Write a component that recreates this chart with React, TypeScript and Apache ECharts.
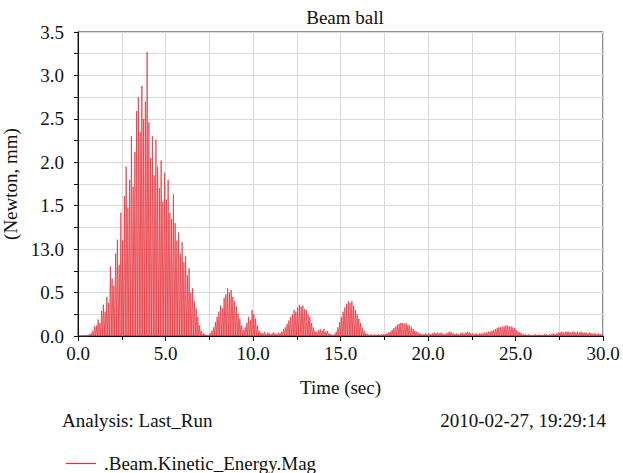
import React, { useEffect, useRef } from "react";
import * as echarts from "echarts";

// Kinetic energy magnitude of the beam, sampled as one oscillation peak every 0.1 s.
const SAMPLE_STEP = 0.1;
const BASELINE = 0;

// 0.0 – 7.5 s: the main impact
const impactPeaks = [
  0, 0, 0, 0, 0,
  0.01, 0.02, 0.03, 0.06, 0.11,
  0.12, 0.19, 0.15, 0.29, 0.36,
  0.28, 0.45, 0.38, 0.8, 0.66,
  0.58, 0.95, 1.11, 0.82, 1.42,
  1.1, 1.61, 1.95, 1.48, 1.8,
  2.3, 1.72, 2.12, 2.59, 2.75,
  2.35, 2.88, 2.5, 2.7, 3.27,
  2.46, 2.05, 2.3, 1.85, 2.26,
  1.95, 1.7, 2.02, 1.55, 1.88,
  1.57, 1.8, 1.42, 1.35, 1.63,
  1.3, 1.1, 1.19, 0.95, 1.08,
  0.85, 0.92, 0.7, 0.78, 0.5,
  0.55, 0.4, 0.32, 0.22, 0.12,
  0.06, 0.03, 0.02, 0.01, 0.01,
];

// 7.5 – 15.0 s: rebounds
const reboundPeaks = [
  0.03, 0.06, 0.1, 0.16, 0.22,
  0.28, 0.35, 0.32, 0.44, 0.48,
  0.55, 0.5, 0.53, 0.45, 0.4,
  0.34, 0.26, 0.2, 0.12, 0.07,
  0.1, 0.15, 0.22, 0.18, 0.3,
  0.25, 0.2, 0.12, 0.06, 0.04,
  0.03, 0.05, 0.02, 0.04, 0.03,
  0.02, 0.04, 0.03, 0.02, 0.04,
  0.03, 0.05, 0.08, 0.1, 0.14,
  0.18, 0.22, 0.25, 0.3, 0.28,
  0.33, 0.36, 0.34, 0.35, 0.31,
  0.3, 0.25, 0.22, 0.15, 0.1,
  0.06, 0.05, 0.07, 0.08, 0.06,
  0.08, 0.05, 0.06, 0.03, 0.02,
  0.01, 0.02, 0.05, 0.1, 0.16,
];

// 15.0 – 22.5 s: settling
const settlePeaks = [
  0.22, 0.28, 0.33, 0.37, 0.4,
  0.38, 0.4, 0.35, 0.3, 0.25,
  0.2, 0.15, 0.1, 0.06, 0.03,
  0.02, 0.01, 0.02, 0.01, 0.02,
  0.01, 0.02, 0.01, 0.02, 0.02,
  0.02, 0.03, 0.04, 0.05, 0.07,
  0.09, 0.11, 0.13, 0.14, 0.15,
  0.15, 0.14, 0.15, 0.13, 0.12,
  0.1, 0.08, 0.06, 0.05, 0.04,
  0.03, 0.02, 0.02, 0.03, 0.02,
  0.03, 0.02, 0.03, 0.04, 0.03,
  0.04, 0.03, 0.04, 0.03, 0.02,
  0.03, 0.04, 0.05, 0.04, 0.03,
  0.02, 0.03, 0.02, 0.03, 0.04,
  0.03, 0.04, 0.05, 0.04, 0.03,
];

// 22.5 – 30.0 s: tail
const tailPeaks = [
  0.03, 0.02, 0.03, 0.02, 0.03,
  0.03, 0.03, 0.04, 0.04, 0.05,
  0.05, 0.06, 0.07, 0.08, 0.09,
  0.1, 0.1, 0.11, 0.11, 0.12,
  0.12, 0.11, 0.11, 0.1, 0.09,
  0.07, 0.05, 0.04, 0.03, 0.02,
  0.02, 0.01, 0.02, 0.01, 0.01,
  0.01, 0.02, 0.01, 0.02, 0.01,
  0.01, 0.02, 0.02, 0.01, 0.02,
  0.02, 0.03, 0.02, 0.03, 0.04,
  0.04, 0.05, 0.04, 0.05, 0.05,
  0.05, 0.04, 0.05, 0.05, 0.04,
  0.05, 0.04, 0.05, 0.04, 0.04,
  0.04, 0.03, 0.04, 0.03, 0.03,
  0.03, 0.02, 0.03, 0.02, 0.02,
];

const xTickLabels = ["0.0", "5.0", "10.0", "15.0", "20.0", "25.0", "30.0"];
const yTickLabels = ["0.0", "0.5", "13.0", "1.5", "2.0", "2.5", "3.0", "3.5"];

const SERIES_NAME = ".Beam.Kinetic_Energy.Mag";
const FONT = "'Liberation Serif', 'DejaVu Serif', 'Times New Roman', serif";
const FONT_SIZE = 19;
const RED = "#e62e38";

function buildSeriesData(): [number, number][] {
  const peaks = [...impactPeaks, ...reboundPeaks, ...settlePeaks, ...tailPeaks];
  const out: [number, number][] = [];
  peaks.forEach((p, i) => {
    const t0 = +(i * SAMPLE_STEP).toFixed(3);
    out.push([t0, BASELINE]);
    out.push([+(t0 + SAMPLE_STEP / 2).toFixed(3), p]);
  });
  out.push([+(peaks.length * SAMPLE_STEP).toFixed(3), BASELINE]);
  return out;
}

export default function App() {
  const ref = useRef<HTMLDivElement>(null);

  useEffect(() => {
    if (!ref.current) return;
    const chart = echarts.init(ref.current, undefined, { renderer: "svg" });
    const gridColor = "#dadada";
    const text = { fontFamily: FONT, fontSize: FONT_SIZE, color: "#111" };
    chart.setOption({
      animation: false,
      backgroundColor: "#ffffff",
      textStyle: { fontFamily: FONT },
      title: {
        text: "Beam ball",
        left: 340,
        top: 3,
        textAlign: "center",
        textStyle: { ...text, fontWeight: "normal" },
      },
      grid: {
        left: 78,
        right: 20,
        top: 32,
        bottom: 137,
        outerBoundsMode: "none",
        containLabel: false,
        show: true,
        borderColor: "#222",
        borderWidth: 1,
        backgroundColor: "transparent",
      },
      legend: {
        left: 61,
        top: 449,
        icon: "rect",
        itemWidth: 30,
        itemHeight: 1.2,
        data: [SERIES_NAME],
        textStyle: { ...text, padding: [0, 0, 0, 3] },
      },
      xAxis: {
        type: "value",
        min: 0,
        max: 30,
        interval: 5,
        name: "Time (sec)",
        nameLocation: "middle",
        nameGap: 42,
        nameTextStyle: text,
        axisLine: { lineStyle: { color: "#111", width: 1 } },
        axisTick: { show: true, length: 5, lineStyle: { color: "#111" } },
        minorTick: { show: true, splitNumber: 2, length: 4, lineStyle: { color: "#111" } },
        axisLabel: {
          ...text,
          margin: 8,
          formatter: (v: number) => xTickLabels[Math.round(v / 5)] ?? "",
        },
        splitLine: { show: true, lineStyle: { color: gridColor, width: 1 } },
        minorSplitLine: { show: true, lineStyle: { color: gridColor, width: 1 } },
      },
      yAxis: {
        type: "value",
        min: 0,
        max: 3.5,
        interval: 0.5,
        name: "(Newton, mm)",
        nameLocation: "middle",
        nameGap: 45,
        nameRotate: 90,
        nameTextStyle: text,
        axisLine: { show: true, lineStyle: { color: "#111", width: 1 } },
        axisTick: { show: true, length: 4, lineStyle: { color: "#111" } },
        minorTick: { show: true, splitNumber: 2, length: 4, lineStyle: { color: "#111" } },
        axisLabel: {
          ...text,
          margin: 14,
          formatter: (v: number) => yTickLabels[Math.round(v / 0.5)] ?? "",
        },
        splitLine: { show: true, lineStyle: { color: gridColor, width: 1 } },
        minorSplitLine: { show: true, lineStyle: { color: gridColor, width: 1 } },
      },
      graphic: [
        {
          type: "text",
          left: 62,
          top: 411,
          style: { text: "Analysis: Last_Run", fontFamily: FONT, fontSize: FONT_SIZE, fill: "#111" },
        },
        {
          type: "text",
          right: 17,
          top: 411,
          style: { text: "2010-02-27, 19:29:14", fontFamily: FONT, fontSize: FONT_SIZE, fill: "#111" },
        },
      ],
      series: [
        {
          name: SERIES_NAME,
          type: "line",
          data: buildSeriesData(),
          showSymbol: false,
          symbol: "none",
          itemStyle: { color: RED },
          lineStyle: { color: RED, width: 0.8, opacity: 0.9 },
          areaStyle: { color: RED, opacity: 0.24 },
        },
      ],
    });
    return () => chart.dispose();
  }, []);

  return (
    <div
      ref={ref}
      style={{ position: "fixed", left: 0, top: 0, width: 623, height: 473, background: "#fff" }}
    />
  );
}
